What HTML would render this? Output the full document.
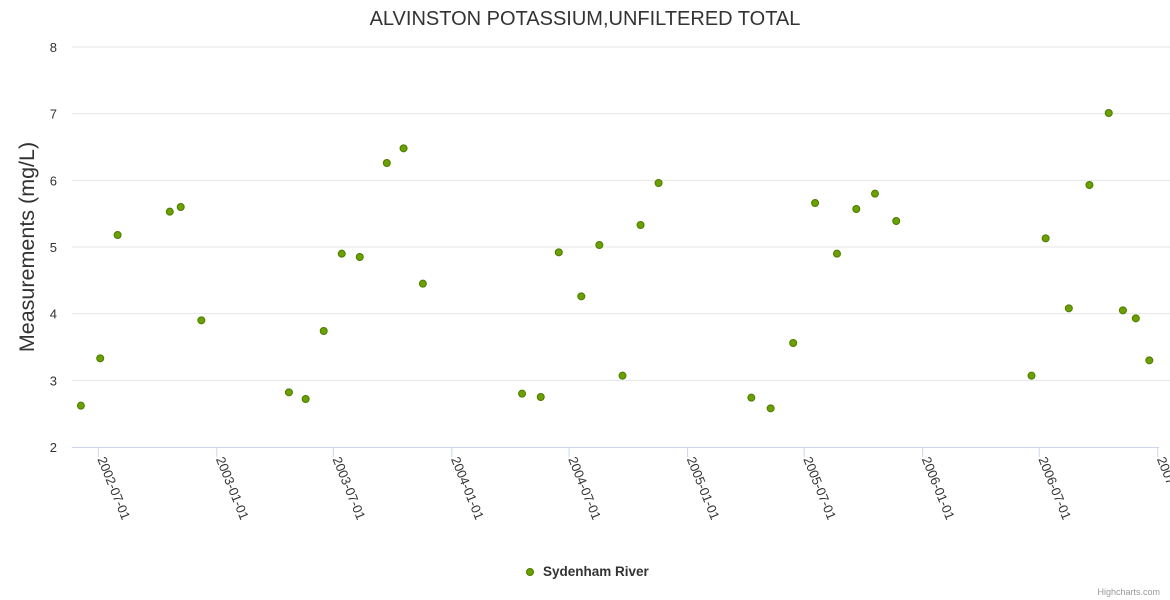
<!DOCTYPE html>
<html><head><meta charset="utf-8"><style>
html,body{margin:0;padding:0;background:#fff;}
svg{display:block;font-family:"Liberation Sans","DejaVu Sans",sans-serif;}
</style></head><body>
<svg id="chart" width="1170" height="600">
<text x="585" y="25" text-anchor="middle" font-size="20" fill="#333">ALVINSTON POTASSIUM,UNFILTERED TOTAL</text>
<text transform="translate(34,247) rotate(-90)" text-anchor="middle" font-size="21.5" fill="#333">Measurements (mg/L)</text>
<g id="grid"></g><g id="xaxis"></g><g id="points"></g>
<g>
<circle cx="530" cy="572" r="3.5" fill="#6aa000" stroke="#4d7a00" stroke-width="1"/>
<text x="543" y="576" font-size="13.5" font-weight="bold" fill="#333">Sydenham River</text>
</g>
<text x="1160" y="595" text-anchor="end" font-size="9" fill="#999">Highcharts.com</text>
</svg>
<script>
const dates=["2002-06-04","2002-07-04","2002-07-31","2002-10-20","2002-11-06","2002-12-08","2003-04-23","2003-05-19","2003-06-16","2003-07-14","2003-08-11","2003-09-22","2003-10-18","2003-11-17","2004-04-19","2004-05-18","2004-06-15","2004-07-20","2004-08-17","2004-09-22","2004-10-20","2004-11-17","2005-04-10","2005-05-10","2005-06-14","2005-07-18","2005-08-21","2005-09-20","2005-10-19","2005-11-21","2006-06-19","2006-07-11","2006-08-16","2006-09-17","2006-10-17","2006-11-08","2006-11-28","2006-12-19"];
const values=[2.62,3.33,5.18,5.53,5.6,3.9,2.82,2.72,3.74,4.9,4.85,6.26,6.48,4.45,2.8,2.75,4.92,4.26,5.03,3.07,5.33,5.96,2.74,2.58,3.56,5.66,4.9,5.57,5.8,5.39,3.07,5.13,4.08,5.93,7.01,4.05,3.93,3.3];
const yTicks=[2,3,4,5,6,7,8];
const xTicks=["2002-07-01","2003-01-01","2003-07-01","2004-01-01","2004-07-01","2005-01-01","2005-07-01","2006-01-01","2006-07-01","2007-01-01"];
const NS="http://www.w3.org/2000/svg";
const d0=Date.parse("2002-07-01"),d1=Date.parse("2007-01-01");
function xs(s){return 98.3+(Date.parse(s)-d0)/(d1-d0)*(1157.7-98.3);}
function ys(v){return 447-(v-2)/6*400;}
function mk(t,a,p){const e=document.createElementNS(NS,t);for(const k in a)e.setAttribute(k,a[k]);p.appendChild(e);return e;}
const grid=document.getElementById('grid');
yTicks.forEach(v=>{
  const y=ys(v);
  if(v>2){const l=mk('line',{x1:72,x2:1170,y1:y,y2:y,stroke:'#e6e6e6'},grid);
  
  }
  const t=mk('text',{x:57,y:y+5,'text-anchor':'end','font-size':13,fill:'#333'},grid);
  t.textContent=v;
  
  
});
const xa=document.getElementById('xaxis');
const al=mk('line',{x1:72,x2:1159,y1:447.5,y2:447.5,stroke:'#ccd6eb'},xa);


xTicks.forEach(s=>{
  const x=xs(s);
  const tk=mk('line',{x1:x,x2:x,y1:447,y2:457,stroke:'#ccd6eb'},xa);
  
  
  const t=mk('text',{transform:`translate(${x-1},${459}) rotate(68)`,'font-size':13,fill:'#333'},xa);
  t.textContent=s;
  
  
});
const pg=document.getElementById('points');
dates.forEach((s,i)=>{
  const c=mk('circle',{cx:xs(s),cy:ys(values[i]),r:3.5,fill:'#6aa000',stroke:'#4d7a00','stroke-width':1},pg);
  
  
});
</script>
</body></html>
